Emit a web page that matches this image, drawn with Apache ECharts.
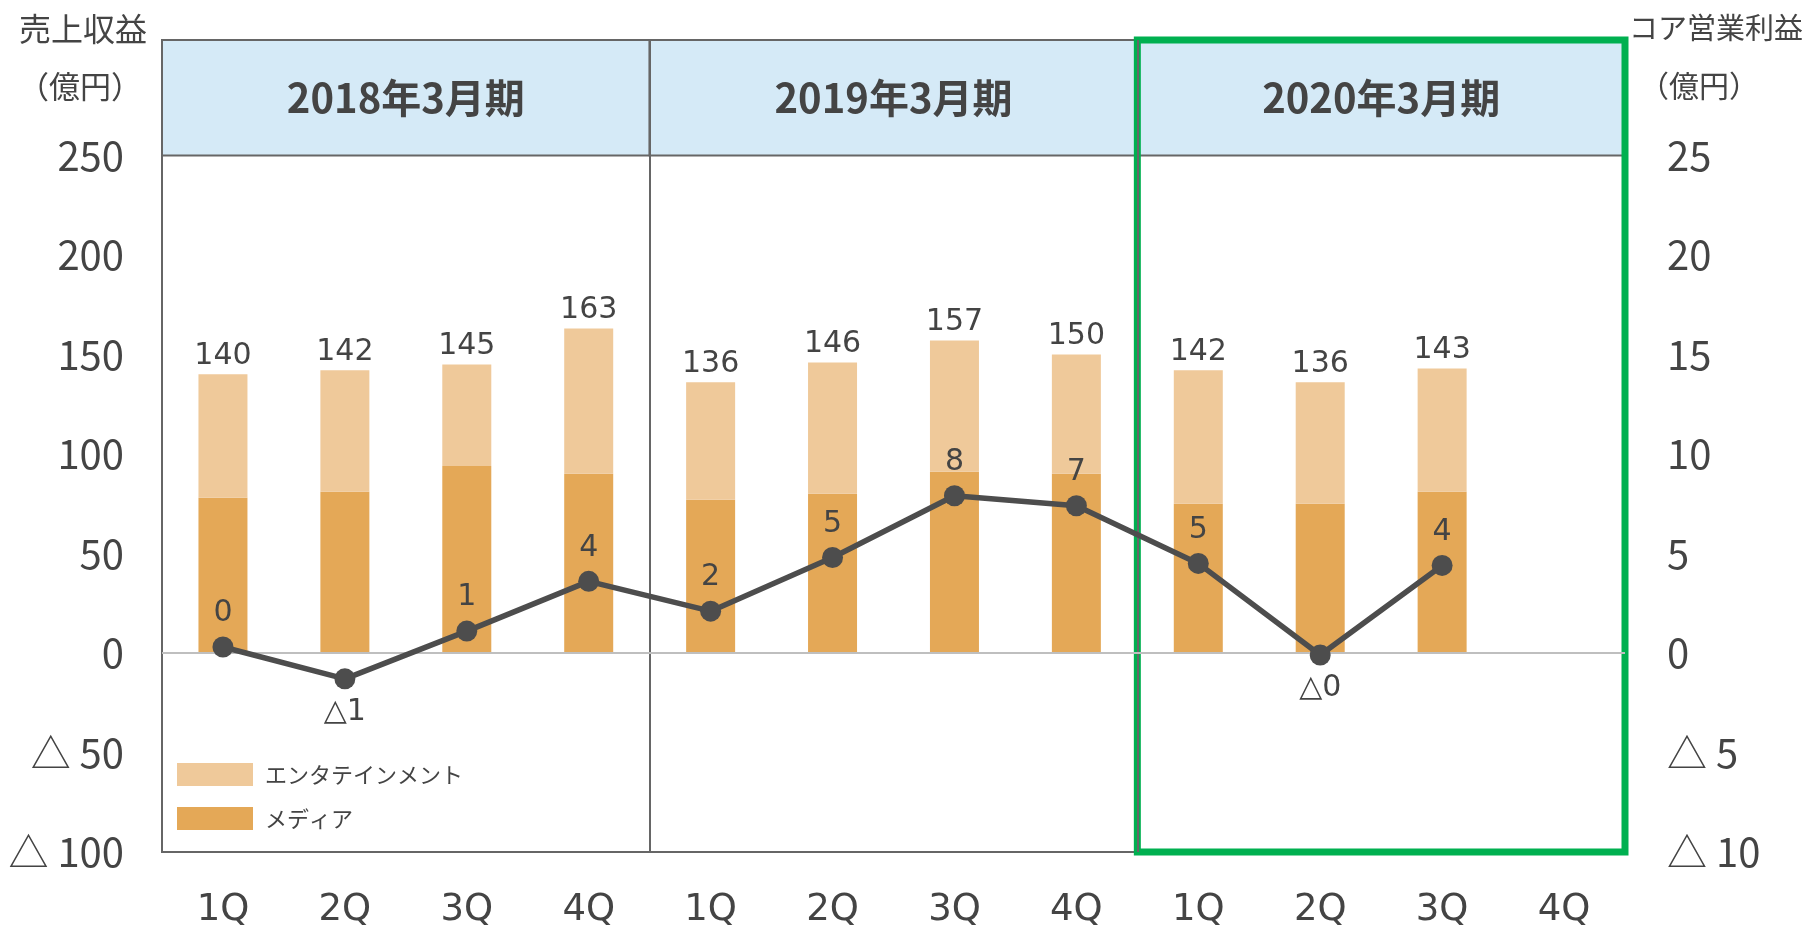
<!DOCTYPE html>
<html>
<head>
<meta charset="utf-8">
<title></title>
<script src="https://cdn.jsdelivr.net/npm/echarts@6/dist/echarts.min.js"></script>
</head>
<body style="margin:0">
<div id="container" style="width:1807px;height:931px"></div>
<script>
// 期と四半期
var years = ['2018年3月期', '2019年3月期', '2020年3月期'];
var quarters = ['1Q', '2Q', '3Q', '4Q'];
// 売上収益（億円）
var totalSales = [140, 142, 145, 163, 136, 146, 157, 150, 142, 136, 143, null];
var mediaSales = [78, 81, 94, 90, 77, 80, 91, 90, 75, 75, 81, null];
// コア営業利益（億円）
var coreProfit = [0.3, -1.3, 1.1, 3.6, 2.1, 4.8, 7.9, 7.4, 4.5, -0.1, 4.4, null];

var categories = [];
years.forEach(function (y) {
    quarters.forEach(function (q) { categories.push(y + '|' + q); });
});
var entSales = totalSales.map(function (t, i) { return t == null ? null : t - mediaSales[i]; });

var textColor = '#444';
var jp = '"Noto Sans CJK JP"';
var latin = '"DejaVu Sans", Verdana, sans-serif';

function tri(v) {
    return v < 0 ? '△ ' + Math.abs(v) : String(v);
}

var dom = document.getElementById('container');
var myChart = echarts.init(dom, null, {renderer: 'canvas'});

var option = {
    animation: false,
    title: [
        {text: '売上収益', left: 14, top: 8, textStyle: {fontFamily: jp, fontSize: 32, fontWeight: 'normal', color: textColor}},
        {text: '（億円）', left: 13, top: 66, textStyle: {fontFamily: jp, fontSize: 31, fontWeight: 'normal', color: textColor}},
        {text: 'コア営業利益', left: 1624, top: 8, textStyle: {fontFamily: jp, fontSize: 29, fontWeight: 'normal', color: textColor}},
        {text: '（億円）', left: 1634, top: 66, textStyle: {fontFamily: jp, fontSize: 30, fontWeight: 'normal', color: textColor}}
    ],
    legend: {
        data: ['エンタテインメント', 'メディア'],
        orient: 'vertical',
        left: 172,
        top: 758,
        itemWidth: 76,
        itemHeight: 23,
        itemGap: 21,
        icon: 'rect',
        textStyle: {fontFamily: jp, fontSize: 22, color: textColor, padding: [0, 0, 0, 7]}
    },
    grid: {left: 162, right: 182, top: 40, bottom: 79, show: true, borderColor: '#666', borderWidth: 2},
    xAxis: [
        {
            type: 'category',
            data: categories,
            axisLine: {show: false},
            axisTick: {show: false},
            axisLabel: {
                margin: 40, fontFamily: latin, fontSize: 37, color: textColor,
                formatter: function (v) { return v.split('|')[1]; }
            }
        },
        {type: 'value', min: 0, max: 12, show: false}
    ],
    yAxis: [
        {
            type: 'value', min: -100, max: 308, interval: 50,
            splitLine: {show: false}, axisLine: {show: false}, axisTick: {show: false},
            axisLabel: {
                margin: 38, fontFamily: jp, fontSize: 40, color: textColor,
                formatter: function (v) { return v > 250 ? '' : tri(v); }
            }
        },
        {
            type: 'value', min: -10, max: 30.8, interval: 5, position: 'right',
            splitLine: {show: false}, axisLine: {show: false}, axisTick: {show: false},
            axisLabel: {
                margin: 42, fontFamily: jp, fontSize: 40, color: textColor,
                formatter: function (v) { return v > 25 ? '' : tri(v); }
            }
        }
    ],
    series: [
        {
            // 期の見出しと区切り線
            type: 'line', xAxisIndex: 1, yAxisIndex: 0, data: [], silent: true, clip: false, z: 1,
            markArea: {
                silent: true,
                itemStyle: {color: '#D5EAF7', borderColor: '#666', borderWidth: 2},
                label: {show: true, position: 'inside', color: textColor, fontFamily: jp, fontSize: 40, fontWeight: 'bold'},
                data: years.map(function (y, i) {
                    return [{name: y, xAxis: i * 4, yAxis: 250}, {xAxis: i * 4 + 4, yAxis: 308}];
                })
            },
            markLine: {
                silent: true, symbol: 'none', label: {show: false},
                lineStyle: {type: 'solid', color: '#666', width: 2},
                data: [
                    {xAxis: 4}, {xAxis: 8},
                    {yAxis: 0, lineStyle: {color: '#bfbfbf', width: 2}}
                ]
            }
        },
        {
            name: 'メディア', type: 'bar', stack: 'sales', data: mediaSales, barWidth: 49,
            itemStyle: {color: '#E4A857'}, z: 2
        },
        {
            name: 'エンタテインメント', type: 'bar', stack: 'sales', data: entSales, barWidth: 49,
            itemStyle: {color: '#EFC99A'}, z: 2,
            label: {
                show: true, position: 'top', distance: 3,
                fontFamily: latin, fontSize: 30, color: textColor,
                formatter: function (p) { return totalSales[p.dataIndex]; }
            }
        },
        {
            name: 'コア営業利益', type: 'line', yAxisIndex: 1, z: 5,
            data: coreProfit.map(function (v) {
                return {value: v, label: {position: v < 0 ? 'bottom' : 'top'}};
            }),
            symbol: 'circle', symbolSize: 21,
            itemStyle: {color: '#4D4D4D'},
            lineStyle: {color: '#4D4D4D', width: 5.5},
            label: {
                show: true, distance: 8, fontFamily: latin, fontSize: 30, color: textColor,
                formatter: function (p) {
                    var v = p.value;
                    return v < 0 ? '△' + Math.round(-v) : String(Math.round(v));
                }
            }
        },
        {
            // 2020年3月期の枠
            type: 'line', xAxisIndex: 1, yAxisIndex: 0, data: [], silent: true, clip: false, z: 10,
            markArea: {
                silent: true,
                itemStyle: {color: 'rgba(0,0,0,0)', borderColor: '#00B050', borderWidth: 7},
                label: {show: false},
                data: [[{xAxis: 8, yAxis: -100}, {xAxis: 12, yAxis: 308}]]
            }
        }
    ]
};

if (option && typeof option === 'object') {
    myChart.setOption(option);
}
window.addEventListener('resize', myChart.resize);
</script>
</body>
</html>
